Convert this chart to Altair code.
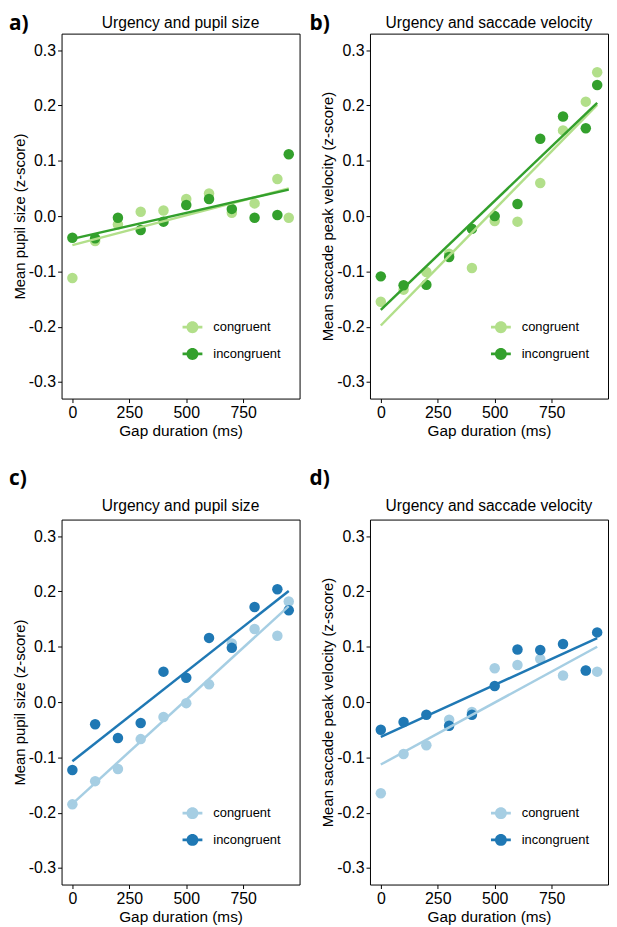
import altair as alt
import pandas as pd

# ---- data ----
gap = [0, 100, 200, 300, 400, 500, 600, 700, 800, 900, 950]
conditions = ["congruent", "incongruent"]

a_congruent = [-0.112, -0.045, -0.015, 0.008, 0.010, 0.031, 0.041, 0.006, 0.023, 0.067, -0.003]
a_incongruent = [-0.039, -0.040, -0.003, -0.025, -0.010, 0.020, 0.031, 0.013, -0.003, 0.002, 0.112]
b_congruent = [-0.155, -0.133, -0.101, -0.068, -0.094, -0.009, -0.010, 0.060, 0.155, 0.207, 0.260]
b_incongruent = [-0.109, -0.125, -0.124, -0.074, -0.023, 0.000, 0.022, 0.140, 0.180, 0.159, 0.237]
c_congruent = [-0.185, -0.143, -0.121, -0.067, -0.027, -0.002, 0.032, 0.106, 0.132, 0.120, 0.182]
c_incongruent = [-0.123, -0.040, -0.065, -0.038, 0.055, 0.044, 0.116, 0.098, 0.172, 0.204, 0.166]
d_congruent = [-0.165, -0.094, -0.078, -0.032, -0.018, 0.061, 0.067, 0.078, 0.048, 0.057, 0.055]
d_incongruent = [-0.050, -0.036, -0.023, -0.043, -0.023, 0.029, 0.095, 0.094, 0.105, 0.057, 0.126]

letters = ["a)", "b)", "c)", "d)"]
titles = ["Urgency and pupil size", "Urgency and saccade velocity",
          "Urgency and pupil size", "Urgency and saccade velocity"]
y_titles = ["Mean pupil size (z-score)", "Mean saccade peak velocity (z-score)",
            "Mean pupil size (z-score)", "Mean saccade peak velocity (z-score)"]
x_title = "Gap duration (ms)"
x_ticks = [0, 250, 500, 750]
y_ticks = [-0.3, -0.2, -0.1, 0.0, 0.1, 0.2, 0.3]
greens = ["#b2df8a", "#33a02c"]
blues = ["#a6cee3", "#1f78b4"]

W, H = 240, 368
FONT = "Liberation Sans"

# legend symbol: a short line with a dot in the middle
SYMBOL = ("M0.6,0 A0.6,0.6 0 1,1 -0.6,0 A0.6,0.6 0 1,1 0.6,0 Z "
          "M-1,-0.14 L-0.58,-0.14 L-0.58,0.14 L-1,0.14 Z "
          "M0.58,-0.14 L1,-0.14 L1,0.14 L0.58,0.14 Z")

label_expr = ("datum.value < 0 ? '-' + format(-datum.value, '.1f') "
              ": format(datum.value, '.1f')")


def panel(i, cong, incong, colors, letter_dx, letter_dy, title_dy):
    df = pd.DataFrame({
        "gap": gap + gap,
        "value": cong + incong,
        "condition": [conditions[0]] * len(gap) + [conditions[1]] * len(gap),
    })
    x = alt.X("gap:Q",
              scale=alt.Scale(domain=[-47.5, 997.5], nice=False, zero=False),
              axis=alt.Axis(values=x_ticks, title=x_title, labelFlush=False))
    y = alt.Y("value:Q",
              scale=alt.Scale(domain=[-0.33, 0.33], nice=False, zero=False),
              axis=alt.Axis(values=y_ticks, labelExpr=label_expr,
                            title=y_titles[i]))
    cscale = alt.Scale(domain=conditions, range=colors)
    base = alt.Chart(df)
    pts = base.mark_point(filled=True, size=112, opacity=1).encode(
        x=x, y=y,
        color=alt.Color("condition:N", scale=cscale,
                        legend=alt.Legend(
                            orient="none", legendX=W - 118, legendY=H - 82,
                            title=None, symbolType=SYMBOL, symbolSize=400,
                            symbolStrokeWidth=0, labelFontSize=13,
                            labelFont=FONT, labelColor="black",
                            labelOffset=11, rowPadding=10, padding=0)),
    )
    line = base.transform_regression(
        "gap", "value", groupby=["condition"]
    ).mark_line(strokeWidth=2.5).encode(
        x=x, y=y,
        color=alt.Color("condition:N", scale=cscale, legend=None),
    )
    ann = alt.Chart(pd.DataFrame({"letter": [letters[i]], "title": [titles[i]]}))
    lab = ann.mark_text(
        align="left", baseline="top", fontSize=21, fontWeight="bold",
        font="Open Sans", color="black",
    ).encode(text="letter:N", x=alt.value(letter_dx), y=alt.value(letter_dy))
    ttl = ann.mark_text(
        align="center", baseline="top", fontSize=15.7,
        font=FONT, color="black",
    ).encode(text="title:N", x=alt.value(W / 2), y=alt.value(title_dy))
    return alt.layer(pts, line, lab, ttl).properties(width=W, height=H)


pa = panel(0, a_congruent, a_incongruent, greens, -53, -21, -18)
pb = panel(1, b_congruent, b_incongruent, greens, -61, -21, -18)
pc = panel(2, c_congruent, c_incongruent, blues, -53, -52, -21)
pd_ = panel(3, d_congruent, d_incongruent, blues, -61, -52, -21)

row1 = alt.hconcat(pa, pb, spacing=8).resolve_scale(color="independent").resolve_legend(color="independent")
row2 = alt.hconcat(pc, pd_, spacing=8).resolve_scale(color="independent").resolve_legend(color="independent")

chart = alt.vconcat(row1, row2, spacing=28).resolve_scale(
    color="independent").resolve_legend(color="independent").properties(
    padding=0).configure_view(
    stroke="black", strokeWidth=1
).configure_axis(
    domain=False, grid=False, tickColor="black", tickSize=4, tickWidth=1,
    labelColor="black", labelFontSize=16, labelFont=FONT,
    titleFont=FONT, titleFontSize=15.5, titleFontWeight="normal",
    titleColor="black", labelPadding=2, titlePadding=3,
).configure_axisY(
    titleFontSize=15, titlePadding=1,
)

chart.save("out.html", embed_options={"renderer": "svg", "actions": False})
